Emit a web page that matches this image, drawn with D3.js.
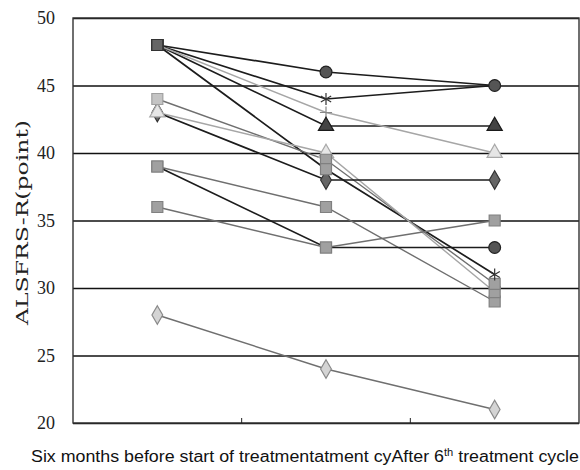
<!DOCTYPE html>
<html>
<head>
<meta charset="utf-8">
<script src="https://cdn.jsdelivr.net/npm/d3@7"></script>
<style>
  body { margin: 0; background: #fff; }
  svg { display: block; }
</style>
</head>
<body>
<div id="chart"></div>
<script>
// categories on the x axis (three visits)
const categories = ['Six months before start of treatment', 'Start of treatment cycle', 'After 6th treatment cycle'];
// ALSFRS-R score per patient, one array per visit
const sixMonthsBefore = [48, 48, 48, 48, 48, 44, 43, 43, 39, 39, 36, 28];
const startOfTreatment = [46, 44, 42, 43, 38.8, 39.5, 40, 38, 36, 33, 33, 24];
const after6thCycle = [45, 45, 42, 40, 31, 30.3, 29.7, 38, 29, 33, 35, 21];
const yTicks = [20, 25, 30, 35, 40, 45, 50];

// style per patient: line tone and marker seen at each visit
const lineTone = ['dark', 'dark', 'dark', 'light', 'dark', 'gray', 'light', 'dark', 'gray', 'dark', 'gray', 'gray'];
const markerShapes = [
  ['square', 'circle', 'circle'],
  ['square', 'asterisk', 'asterisk'],
  ['square', 'triangle', 'triangle'],
  ['square', 'plus', 'triangleLight'],
  ['square', 'square', 'asterisk'],
  ['squareLight', 'square', 'square'],
  ['triangleLight', 'triangleLight', 'square'],
  ['diamond', 'diamond', 'diamond'],
  ['square', 'square', 'square'],
  ['square', 'square', 'circle'],
  ['square', 'square', 'square'],
  ['diamondLight', 'diamondLight', 'diamondLight']
];

const width = 580, height = 470;
const margin = { top: 18, right: 1, bottom: 45, left: 73 };

const svg = d3.select('#chart').append('svg')
  .attr('width', width)
  .attr('height', height);

const x = d3.scaleBand()
  .domain(categories)
  .range([margin.left, width - margin.right])
  .padding(0);

const y = d3.scaleLinear()
  .domain([20, 50])
  .range([height - margin.bottom - 2, margin.top]);

// gridlines + y axis labels
const yAxis = d3.axisLeft(y)
  .tickValues(yTicks)
  .tickSize(-(width - margin.right - margin.left))
  .tickPadding(18)
  .tickFormat(d3.format('d'));

svg.append('g')
  .attr('class', 'y-axis')
  .attr('transform', `translate(${margin.left},0)`)
  .call(yAxis)
  .call(g => g.select('.domain').remove())
  .call(g => g.selectAll('line').attr('stroke', '#111').attr('stroke-width', 1.3))
  .call(g => g.selectAll('text')
    .attr('fill', '#222')
    .style('font-family', '"Liberation Serif", "DejaVu Serif", serif')
    .style('font-size', '18px'));

// plot frame
svg.append('rect')
  .attr('x', margin.left)
  .attr('y', y(50))
  .attr('width', width - margin.right - margin.left)
  .attr('height', y(20) - y(50))
  .attr('fill', 'none')
  .attr('stroke', '#333')
  .attr('stroke-width', 1.4);

// category separators on the x axis
svg.append('g')
  .selectAll('line')
  .data(categories.slice(1))
  .join('line')
  .attr('x1', d => x(d))
  .attr('x2', d => x(d))
  .attr('y1', y(20))
  .attr('y2', y(20) - 5)
  .attr('stroke', '#222');

const cx = i => x(categories[i]) + x.bandwidth() / 2;

const patients = sixMonthsBefore.map((v, i) => ({
  id: i,
  values: [v, startOfTreatment[i], after6thCycle[i]]
}));

const toneStroke = { dark: '#1c1c1c', gray: '#6f6f6f', light: '#a6a6a6' };
const toneWidth = { dark: 1.7, gray: 1.4, light: 1.4 };

const line = d3.line()
  .x((d, i) => cx(i))
  .y(d => y(d));

svg.append('g')
  .selectAll('path')
  .data(patients)
  .join('path')
  .attr('d', d => line(d.values))
  .attr('fill', 'none')
  .attr('stroke', d => toneStroke[lineTone[d.id]])
  .attr('stroke-width', d => toneWidth[lineTone[d.id]]);

// marker look
const markerStyle = {
  square:        { type: d3.symbolSquare,   size: 121, fill: '#a0a0a0', stroke: '#808080' },
  squareLight:   { type: d3.symbolSquare,   size: 121, fill: '#c4c4c4', stroke: '#a0a0a0' },
  circle:        { type: d3.symbolCircle,   size: 110, fill: '#555',    stroke: '#222' },
  triangle:      { type: d3.symbolTriangle, size: 100, fill: '#444',    stroke: '#1a1a1a' },
  triangleLight: { type: d3.symbolTriangle, size: 100, fill: '#e6e6e6', stroke: '#a8a8a8' },
  diamond:       { type: d3.symbolDiamond,  size: 100, fill: '#666',    stroke: '#333' },
  diamondLight:  { type: d3.symbolDiamond,  size: 100, fill: '#d4d4d4', stroke: '#8a8a8a' },
  asterisk:      { type: d3.symbolAsterisk, size: 100, fill: 'none',    stroke: '#333' },
  plus:          { type: d3.symbolPlus,     size: 50,  fill: 'none',    stroke: '#888' }
};

const markers = [];
patients.forEach(p => p.values.forEach((v, i) => {
  markers.push({ id: p.id, i, value: v, shape: markerShapes[p.id][i] });
}));

// paint in patient order so the 48-point cluster ends as a dark square
const markerOrder = [7, 11, 10, 9, 8, 6, 5, 3, 4, 2, 1, 0];
markers.sort((a, b) => markerOrder.indexOf(a.id) - markerOrder.indexOf(b.id));

svg.append('g')
  .selectAll('path')
  .data(markers)
  .join('path')
  .attr('transform', d => `translate(${cx(d.i)},${y(d.value)})`)
  .attr('d', d => d3.symbol(markerStyle[d.shape].type, markerStyle[d.shape].size)())
  .attr('fill', d => (d.id < 5 && d.i === 0) ? '#666' : markerStyle[d.shape].fill)
  .attr('stroke', d => (d.id < 5 && d.i === 0) ? '#333' : markerStyle[d.shape].stroke)
  .attr('stroke-width', 1.2);

// y axis title
svg.append('text')
  .attr('transform', `translate(28,${(y(20) + y(50)) / 2 + 2}) rotate(-90)`)
  .attr('text-anchor', 'middle')
  .attr('textLength', 205)
  .attr('lengthAdjust', 'spacingAndGlyphs')
  .style('font-family', '"DejaVu Serif", "Liberation Serif", serif')
  .style('font-size', '16px')
  .attr('fill', '#222')
  .text('ALSFRS-R(point)');

// x axis labels (they overlap each other in the original)
const xLabel = svg.append('text')
  .attr('x', 31)
  .attr('y', 462)
  .attr('textLength', 548)
  .attr('lengthAdjust', 'spacingAndGlyphs')
  .style('font-family', '"Liberation Sans", Arial, sans-serif')
  .style('font-size', '16px')
  .attr('fill', '#111');

xLabel.append('tspan').text('Six months before start of treatmentatment cyAfter 6');
xLabel.append('tspan').attr('dy', -6).style('font-size', '10px').text('th');
xLabel.append('tspan').attr('dy', 6).text(' treatment  cycle');
</script>
</body>
</html>
